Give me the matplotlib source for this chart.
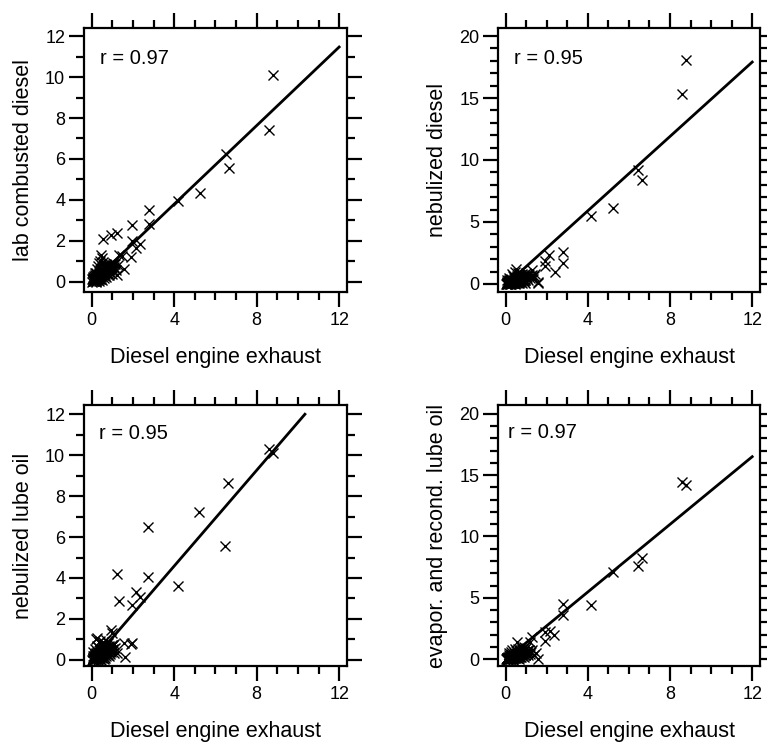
import matplotlib
matplotlib.use("Agg")
import matplotlib.pyplot as plt
from matplotlib.ticker import MultipleLocator

plt.rcParams['font.family'] = ['Liberation Sans', 'DejaVu Sans']

# ---------------- data ----------------
x_label = "Diesel engine exhaust"
y_labels = ["lab combusted diesel", "nebulized diesel",
            "nebulized lube oil", "evapor. and recond. lube oil"]
r_texts = ["r = 0.97", "r = 0.95", "r = 0.95", "r = 0.97"]

# panel 1: lab combusted diesel
p1_x = [8.79, 8.59, 6.52, 6.65, 5.23, 4.17, 2.78, 2.78, 1.94, 1.24, 0.95, 0.56,
        1.97, 2.34, 2.13, 1.92, 1.57, 1.24, 0.44, 0.50, 1.33, 1.45,
        0.02, 0.05, 0.08, 0.10, 0.12, 0.15, 0.18, 0.20, 0.22, 0.25, 0.27, 0.30,
        0.32, 0.35, 0.38, 0.40, 0.42, 0.45, 0.47, 0.50, 0.52, 0.55, 0.58, 0.60,
        0.62, 0.65, 0.68, 0.70, 0.72, 0.75, 0.78, 0.80, 0.85, 0.88, 0.90, 0.95,
        1.00, 1.05, 1.10, 1.15, 1.20, 1.30, 0.15, 0.25, 0.30, 0.38, 0.10, 0.05,
        0.20, 0.35, 0.50, 0.60, 0.13, 0.28, 0.43, 0.57, 0.03, 0.40, 0.55, 0.70,
        0.85, 1.00]
p1_y = [10.08, 7.41, 6.24, 5.54, 4.36, 3.95, 3.52, 2.84, 2.79, 2.38, 2.30, 2.09,
        1.98, 1.85, 1.65, 1.22, 0.60, 0.31, 1.33, 1.15, 1.33, 1.25,
        0.01, 0.08, 0.03, 0.15, 0.06, 0.20, 0.10, 0.28, 0.05, 0.18, 0.35, 0.12,
        0.25, 0.40, 0.20, 0.30, 0.50, 0.15, 0.38, 0.60, 0.28, 0.45, 0.70, 0.35,
        0.55, 0.40, 0.62, 0.80, 0.50, 0.68, 0.45, 0.75, 0.60, 0.85, 0.55, 0.78,
        0.65, 0.90, 0.70, 0.85, 0.55, 0.80, 0.45, 0.60, 0.75, 0.90, 0.30, 0.20,
        0.00, 0.05, 0.10, 0.20, 0.12, 0.22, 0.32, 0.52, 0.15, 1.00, 0.95, 0.25,
        0.35, 0.40]

# panel 2: nebulized diesel
p2_x = [8.76, 8.56, 6.46, 6.62, 5.24, 4.14, 2.78, 2.78, 2.10, 1.92, 1.92, 2.40,
        1.60, 1.36, 1.28, 1.57,
        0.02, 0.05, 0.08, 0.10, 0.12, 0.15, 0.18, 0.20, 0.22, 0.25, 0.28, 0.30,
        0.32, 0.35, 0.38, 0.40, 0.42, 0.45, 0.48, 0.50, 0.52, 0.55, 0.58, 0.60,
        0.62, 0.65, 0.68, 0.70, 0.72, 0.75, 0.78, 0.80, 0.85, 0.88, 0.90, 0.95,
        1.00, 1.05, 1.10, 1.15, 1.20, 1.25, 0.30, 0.45, 0.50, 0.35, 0.60, 0.15,
        0.05, 0.25, 0.45, 0.65, 0.80, 0.95, 1.30, 1.35, 1.45, 0.10, 0.20, 0.40]
p2_y = [18.1, 15.3, 9.19, 8.37, 6.10, 5.47, 2.57, 1.68, 2.30, 1.81, 1.45, 1.00,
        0.05, 0.60, 0.73, 0.19,
        0.00, 0.10, 0.02, 0.20, 0.05, 0.30, 0.10, 0.00, 0.25, 0.12, 0.40, 0.05,
        0.20, 0.35, 0.10, 0.50, 0.20, 0.30, 0.05, 0.45, 0.15, 0.60, 0.30, 0.10,
        0.50, 0.25, 0.70, 0.40, 0.15, 0.55, 0.30, 0.80, 0.45, 0.20, 0.65, 0.35,
        0.90, 0.50, 0.30, 0.75, 0.45, 0.60, 0.80, 1.00, 1.20, 0.60, 0.90, 0.50,
        0.35, 0.00, 0.00, 0.05, 0.10, 0.10, 1.10, 0.40, 0.80, 0.10, 0.15, 0.25]

# panel 3: nebulized lube oil
p3_x = [8.60, 8.80, 6.63, 6.47, 5.22, 4.17, 2.75, 2.75, 1.21, 1.33, 2.15, 2.34,
        1.94, 1.94, 1.92, 1.62, 1.24, 0.92, 1.00, 1.57, 0.27, 0.43, 0.20,
        0.02, 0.05, 0.08, 0.10, 0.12, 0.15, 0.18, 0.20, 0.22, 0.25, 0.28, 0.30,
        0.32, 0.35, 0.38, 0.40, 0.42, 0.45, 0.48, 0.50, 0.52, 0.55, 0.58, 0.60,
        0.62, 0.65, 0.68, 0.70, 0.72, 0.75, 0.78, 0.80, 0.85, 0.88, 0.90, 0.95,
        1.00, 1.05, 1.10, 1.15, 0.15, 0.25, 0.35, 0.05, 0.30, 0.45, 0.60, 0.12,
        0.38, 0.55, 0.70, 0.85, 0.50, 0.65]
p3_y = [10.30, 10.10, 8.63, 5.54, 7.23, 3.62, 6.47, 4.06, 4.19, 2.86, 3.30, 3.09,
        2.68, 0.81, 0.78, 0.13, 0.33, 1.48, 1.30, 0.80, 1.07, 0.90, 1.00,
        0.01, 0.10, 0.03, 0.18, 0.05, 0.25, 0.08, 0.30, 0.02, 0.15, 0.40, 0.10,
        0.22, 0.35, 0.05, 0.45, 0.15, 0.30, 0.08, 0.55, 0.20, 0.40, 0.12, 0.60,
        0.30, 0.45, 0.18, 0.70, 0.35, 0.55, 0.25, 0.80, 0.50, 0.30, 0.65, 0.40,
        0.75, 0.55, 0.35, 0.60, 0.55, 0.70, 0.85, 0.40, 0.00, 0.00, 0.05, 0.12,
        0.60, 0.85, 0.95, 0.20, 0.72, 0.10]

# panel 4: evapor. and recond. lube oil
p4_x = [8.58, 8.77, 6.62, 6.46, 5.24, 4.17, 2.80, 2.80, 2.34, 2.15, 1.92, 1.90,
        1.58, 1.20, 1.28, 0.55, 1.50, 1.40,
        0.02, 0.05, 0.08, 0.10, 0.12, 0.15, 0.18, 0.20, 0.22, 0.25, 0.28, 0.30,
        0.32, 0.35, 0.38, 0.40, 0.42, 0.45, 0.48, 0.50, 0.52, 0.55, 0.58, 0.60,
        0.62, 0.65, 0.68, 0.70, 0.72, 0.75, 0.78, 0.80, 0.85, 0.88, 0.90, 0.95,
        1.00, 1.05, 1.10, 1.15, 1.20, 1.25, 0.15, 0.30, 0.45, 0.60, 0.75, 0.90,
        0.10, 0.35, 0.65, 1.30, 0.25, 0.50]
p4_y = [14.45, 14.18, 8.27, 7.59, 7.13, 4.41, 4.45, 3.63, 1.96, 2.25, 2.20, 1.45,
        0.00, 1.40, 1.82, 1.35, 0.50, 0.30,
        0.00, 0.10, 0.02, 0.20, 0.05, 0.30, 0.10, 0.00, 0.25, 0.12, 0.40, 0.05,
        0.20, 0.35, 0.10, 0.50, 0.20, 0.30, 0.05, 0.45, 0.15, 0.60, 0.30, 0.10,
        0.50, 0.25, 0.70, 0.40, 0.15, 0.55, 0.30, 0.80, 0.45, 0.20, 0.65, 0.35,
        0.90, 0.50, 0.30, 0.75, 0.45, 0.60, 0.50, 0.70, 0.80, 0.85, 0.95, 1.00,
        -0.10, -0.05, 0.00, 0.70, 0.60, 0.65]

# additional low-concentration points (dense cluster near origin)
extra_x = [0.06, 0.09, 0.14, 0.17, 0.21, 0.24, 0.29, 0.33, 0.36, 0.41, 0.44, 0.48,
           0.53, 0.56, 0.61, 0.64, 0.67, 0.71, 0.74, 0.77, 0.82, 0.86, 0.92, 0.97,
           1.02, 1.08, 0.11, 0.19, 0.26, 0.34, 0.39, 0.46, 0.54, 0.63, 0.73, 0.83,
           0.93, 0.07, 0.16, 0.23]
extra_y1 = [0.05, 0.12, 0.08, 0.22, 0.14, 0.30, 0.18, 0.33, 0.26, 0.42, 0.35, 0.48,
            0.40, 0.58, 0.46, 0.60, 0.52, 0.66, 0.58, 0.72, 0.70, 0.76, 0.72, 0.82,
            0.80, 0.88, 0.02, 0.06, 0.10, 0.15, 0.12, 0.25, 0.35, 0.28, 0.40, 0.50,
            0.60, 0.25, 0.35, 0.42]
extra_y2 = [0.03, 0.08, 0.05, 0.15, 0.10, 0.20, 0.08, 0.25, 0.15, 0.30, 0.20, 0.35,
            0.25, 0.40, 0.30, 0.45, 0.35, 0.50, 0.40, 0.55, 0.50, 0.60, 0.55, 0.65,
            0.70, 0.75, 0.00, 0.02, 0.05, 0.05, 0.08, 0.12, 0.15, 0.18, 0.22, 0.28,
            0.35, 0.15, 0.22, 0.30]
extra_y3 = [0.04, 0.10, 0.06, 0.18, 0.12, 0.25, 0.14, 0.28, 0.20, 0.35, 0.28, 0.40,
            0.32, 0.48, 0.38, 0.52, 0.44, 0.56, 0.48, 0.62, 0.58, 0.66, 0.62, 0.70,
            0.72, 0.78, 0.01, 0.04, 0.08, 0.10, 0.10, 0.18, 0.25, 0.22, 0.30, 0.40,
            0.48, 0.20, 0.30, 0.36]
extra_y4 = [0.02, 0.06, 0.04, 0.12, 0.08, 0.18, 0.06, 0.22, 0.12, 0.28, 0.18, 0.32,
            0.22, 0.38, 0.28, 0.42, 0.32, 0.48, 0.36, 0.52, 0.46, 0.56, 0.50, 0.60,
            0.64, 0.70, -0.02, 0.00, 0.03, 0.04, 0.06, 0.10, 0.12, 0.15, 0.20, 0.25,
            0.32, 0.12, 0.20, 0.26]

# fit lines: slope, intercept, x-start, x-end
fit_slope = [0.96, 1.50, 1.17, 1.38]
fit_intercept = [-0.05, -0.10, -0.10, -0.05]
fit_x0 = [0.0, 0.0, 0.0, 0.0]
fit_x1 = [12.0, 12.0, 10.34, 12.0]

xs = [p1_x + extra_x, p2_x + extra_x, p3_x + extra_x, p4_x + extra_x]
ys = [p1_y + extra_y1, p2_y + extra_y2, p3_y + extra_y3, p4_y + extra_y4]
ylims = [(-0.5, 12.4), (-0.65, 20.65), (-0.3, 12.45), (-0.57, 20.73)]
y_major = [2, 5, 2, 5]
xlim = (-0.37, 12.38)

# ---------------- figure ----------------
fig = plt.figure(figsize=(7.67, 7.42), dpi=100)
positions = [
    [0.1095, 0.6065, 0.3429, 0.3558],
    [0.6493, 0.6065, 0.3416, 0.3558],
    [0.1095, 0.1024, 0.3429, 0.3518],
    [0.6493, 0.1024, 0.3416, 0.3518],
]
r_pos = [(0.060, 0.886), (0.060, 0.886), (0.058, 0.890), (0.038, 0.893)]

for i in range(4):
    ax = fig.add_axes(positions[i])
    ax.plot(xs[i], ys[i], linestyle='none', marker='x', markersize=7,
            markeredgewidth=1.0, color='black')
    lx = [fit_x0[i], fit_x1[i]]
    ly = [fit_slope[i] * v + fit_intercept[i] for v in lx]
    ax.plot(lx, ly, color='black', linewidth=2.0)
    ax.set_xlim(*xlim)
    ax.set_ylim(*ylims[i])
    ax.xaxis.set_major_locator(MultipleLocator(4))
    ax.xaxis.set_minor_locator(MultipleLocator(1))
    ax.yaxis.set_major_locator(MultipleLocator(y_major[i]))
    ax.yaxis.set_minor_locator(MultipleLocator(1))
    ax.tick_params(which='both', direction='out', top=True, right=True,
                   labeltop=False, labelright=False, width=1.6, labelsize=13)
    ax.tick_params(which='major', length=10.5)
    ax.tick_params(which='minor', length=5.5)
    ax.tick_params(axis='x', which='major', pad=4)
    ax.tick_params(axis='y', which='major', pad=3)
    for sp in ax.spines.values():
        sp.set_linewidth(1.6)
    ax.set_xlabel(x_label, fontsize=15.5, labelpad=13)
    ax.set_ylabel(y_labels[i], fontsize=15.5, labelpad=8)
    ax.text(r_pos[i][0], r_pos[i][1], r_texts[i], transform=ax.transAxes,
            fontsize=14.5, ha='left', va='center')

fig.savefig("out.png", dpi=100)
